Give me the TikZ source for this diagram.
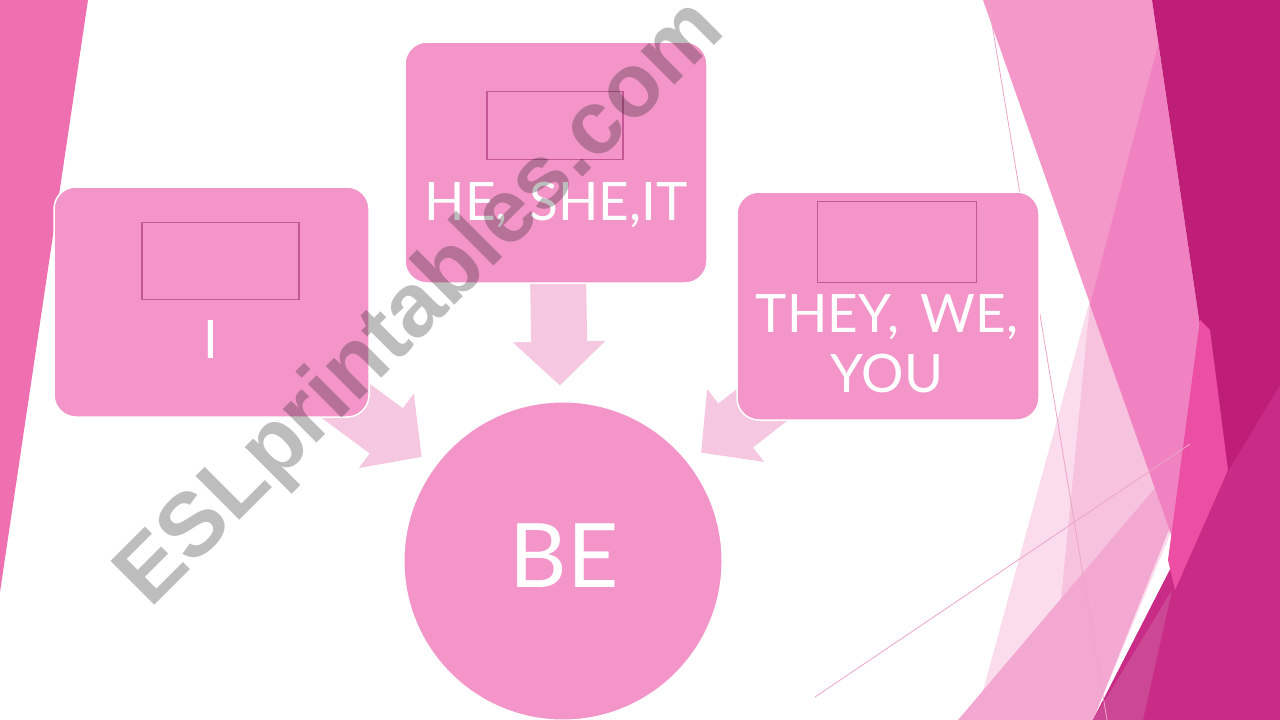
\documentclass[tikz,border=0pt]{standalone}
\usepackage{fontspec}
\setmainfont{Lato}
\newfontfamily\boxfont[WordSpace=1.6]{Lato}
\newfontfamily\wmfont{Liberation Sans}
\usetikzlibrary{arrows.meta}
\pgfdeclarelayer{deco}
\pgfdeclarelayer{arrows}
\pgfsetlayers{deco,arrows,main}
\definecolor{boxpink}{RGB}{243,149,200}
\definecolor{arrowpink}{RGB}{246,199,224}
\definecolor{framepink}{RGB}{196,88,150}
\definecolor{leftpink}{RGB}{238,112,176}
\definecolor{facetdark}{RGB}{190,30,120}
\definecolor{facetmid}{RGB}{200,44,134}
\definecolor{facetdusty}{RGB}{205,72,148}
\definecolor{facethot}{RGB}{236,78,164}
\definecolor{facetlight}{RGB}{244,152,202}
\definecolor{facetmedium}{RGB}{240,130,194}
\definecolor{facetrose}{RGB}{247,194,222}
\definecolor{facetpale}{RGB}{250,220,236}
\definecolor{facetband}{RGB}{243,168,210}
\definecolor{facetline}{RGB}{236,165,200}
\begin{document}
\begin{tikzpicture}[x=1pt,y=-1pt,
  box/.style={draw=white,line width=1.5pt,fill=boxpink,rounded corners=22pt},
  frame/.style={draw=framepink,line width=1.2pt,inner sep=0pt},
  lbl/.style={text=white,font=\boxfont\fontsize{53}{60}\selectfont,anchor=base,inner sep=0pt,align=center},
  bigarrow/.style={arrowpink,line width=56pt,-{Triangle[length=44pt,width=90pt]},shorten >=16pt}]
  \useasboundingbox (0,0) rectangle (1280,720);

  % 背景
  \begin{pgfonlayer}{deco}
  \fill[white] (0,0) rectangle (1280,720);
  \fill[leftpink] (0,0) -- (88,0) -- (0,592) -- cycle;
  \fill[facetpale] (1090,300) -- (1172,530) -- (1093,720) -- (975,720) -- cycle;
  \fill[facetrose] (1090,303) -- (1172,530) -- (1060,610) -- cycle;
  \fill[facetband] (958,720) -- (1093,720) -- (1170,527) -- (1172,468) -- cycle;
  \fill[facetlight] (983,0) -- (1152,0) -- (1208,380) -- (1175,545) -- cycle;
  \fill[facetmedium] (1158,45) -- (1205,360) -- (1175,545) -- (1090,305) -- cycle;
  \fill[facetdark] (1152,0) -- (1280,0) -- (1280,720) -- (1093,720)
    -- (1175,560) -- (1208,380) -- cycle;
  \fill[facetmid] (1175,560) -- (1280,385) -- (1280,720) -- (1093,720) -- cycle;
  \fill[facetdusty] (1093,720) -- (1143,720) -- (1172,590) -- cycle;
  \fill[facethot] (1200,320) -- (1210,330) -- (1228,470) -- (1175,590) -- (1168,560) -- cycle;
  \draw[facetline,line width=0.8pt] (988,0) -- (1107,720);
  \draw[facetline,line width=0.8pt] (815,697) -- (1190,444);
  \end{pgfonlayer}

  % 方框和圆
  \node[box,minimum width=315pt,minimum height=230pt] (i) at (211.5,302) {};
  \node[box,minimum width=302pt,minimum height=241pt] (he) at (556,162.5) {};
  \node[box,minimum width=302pt,minimum height=228pt] (they) at (888,306) {};
  \node[circle,fill=boxpink,draw=white,line width=1pt,minimum size=318pt] (be) at (563,561) {};

  % 箭头
  \begin{pgfonlayer}{arrows}
  \draw[bigarrow] (i.center) -- (be);
  \draw[bigarrow] (he.center) -- (be);
  \draw[bigarrow] (they.center) -- (be);
  \end{pgfonlayer}

  \node[frame,minimum width=157pt,minimum height=77pt] (iframe) at (220.5,261) {};
  \node[frame,minimum width=136pt,minimum height=68pt] (heframe) at (555,125.5) {};
  \node[frame,minimum width=159pt,minimum height=81pt] (theyframe) at (897,242) {};

  \node[lbl] (itext) at (211,358) {I};
  \node[lbl] (hetext) at (556,220) {HE, SHE,IT};
  \node[lbl] (theytext) at (887,392) {THEY, WE,\\YOU};
  \node[lbl,font=\fontsize{89}{90}\selectfont] (betext) at (564,587) {BE};

  % 水印
  \node[text=black!88,opacity=0.29,font=\wmfont\bfseries\fontsize{90}{90}\selectfont,
    rotate=45,inner sep=0pt] (wmark) at (422,305) {ESLprintables.com};
\end{tikzpicture}
\end{document}
